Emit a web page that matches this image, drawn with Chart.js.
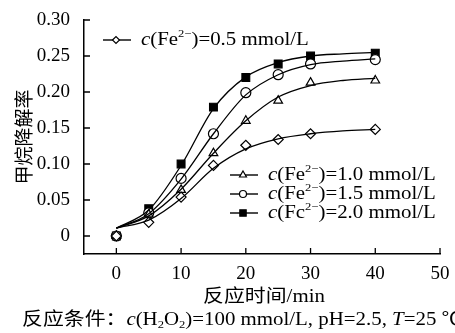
<!DOCTYPE html>
<html>
<head>
<meta charset="utf-8">
<script src="https://cdn.jsdelivr.net/npm/chart.js@4.4.1/dist/chart.umd.min.js"></script>
<style>
  body { margin: 0; background: #fff; }
</style>
</head>
<body>
<canvas id="c" width="455" height="333"></canvas>
<script>
// measured points
const times = [0, 5, 10, 15, 20, 25, 30, 40];
const fe05 = [0, 0.019, 0.054, 0.098, 0.126, 0.134, 0.142, 0.148];
const fe10 = [0, 0.030, 0.064, 0.115, 0.160, 0.188, 0.213, 0.216];
const fe15 = [0, 0.032, 0.080, 0.142, 0.199, 0.224, 0.239, 0.245];
const fe20 = [0, 0.038, 0.100, 0.179, 0.220, 0.239, 0.250, 0.254];

// fitted curves
const fitTimes = [0, 5, 10, 15, 20, 25, 30, 35, 40];
const fit05 = [0.011, 0.022, 0.052, 0.094, 0.121, 0.135, 0.142, 0.146, 0.148];
const fit10 = [0.011, 0.028, 0.065, 0.115, 0.160, 0.193, 0.209, 0.216, 0.219];
const fit15 = [0.011, 0.031, 0.079, 0.142, 0.196, 0.224, 0.238, 0.243, 0.246];
const fit20 = [0.011, 0.036, 0.098, 0.177, 0.221, 0.241, 0.250, 0.253, 0.255];

const xTicks = [0, 10, 20, 30, 40, 50];
const yTicks = [0, 0.05, 0.10, 0.15, 0.20, 0.25, 0.30];

const FONT = "'Liberation Serif', 'Noto Sans CJK SC', serif";
const SX = 1.16; // the original text is a bit wider than the font

function pts(xs, ys) { return xs.map((x, i) => ({ x: x, y: ys[i] })); }

function curve(ys) {
  return {
    data: pts(fitTimes, ys), borderColor: '#000', borderWidth: 1.3,
    pointRadius: 0, cubicInterpolationMode: 'monotone', fill: false
  };
}
function marks(ys, style, r, filled) {
  return {
    data: pts(times, ys), showLine: false, pointStyle: style, pointRadius: r,
    pointBorderColor: '#000', pointBorderWidth: 1.2,
    pointBackgroundColor: filled ? '#000' : '#fff'
  };
}

// text with italic / super / subscript parts, stretched a little in x
function richText(ctx, x, y, parts, size, align) {
  ctx.save();
  ctx.textBaseline = 'middle';
  ctx.textAlign = 'left';
  ctx.fillStyle = '#000';
  let w = 0;
  const fonts = parts.map(p => {
    let fs = size, dy = 0, st = '';
    if (p[1] === 'i') st = 'italic ';
    if (p[1] === 'sup') { fs = size * 0.6; dy = -size * 0.33; }
    if (p[1] === 'sub') { fs = size * 0.6; dy = size * 0.3; }
    ctx.font = st + fs + 'px ' + FONT;
    const pw = ctx.measureText(p[0]).width;
    w += pw;
    return { font: ctx.font, dy: dy, w: pw };
  });
  ctx.translate(x, y);
  ctx.scale(SX, 1);
  let cx = align === 'center' ? -w / 2 : 0;
  parts.forEach((p, i) => {
    ctx.font = fonts[i].font;
    ctx.fillText(p[0], cx, fonts[i].dy);
    cx += fonts[i].w;
  });
  ctx.restore();
}

function legendEntry(ctx, x, y, style, r, filled, label) {
  ctx.save();
  ctx.strokeStyle = '#000';
  ctx.lineWidth = 1.4;
  ctx.beginPath();
  ctx.moveTo(x, y); ctx.lineTo(x + 28, y);
  ctx.stroke();
  ctx.fillStyle = filled ? '#000' : '#fff';
  ctx.lineWidth = 1.2;
  Chart.helpers.drawPoint(ctx, { pointStyle: style, radius: r, rotation: 0, borderWidth: 1.2 }, x + 13, y);
  ctx.restore();
  richText(ctx, x + 38, y, [['c', 'i'], ['(' + label[0], 'n'], ['2\u2212', 'sup'], [')=' + label[1] + ' mmol/L', 'n']], 18);
}

const extras = {
  id: 'extras',
  afterDraw(chart) {
    const ctx = chart.ctx;
    const xs = chart.scales.x, ys = chart.scales.y;
    ctx.save();
    ctx.strokeStyle = '#000';
    ctx.lineWidth = 1.3;
    ctx.beginPath();
    yTicks.forEach(v => {
      const py = ys.getPixelForValue(v);
      ctx.moveTo(xs.left, py); ctx.lineTo(xs.left + 6, py);
    });
    xTicks.forEach(v => {
      const px = xs.getPixelForValue(v);
      ctx.moveTo(px, ys.bottom); ctx.lineTo(px, ys.bottom - 6);
    });
    ctx.stroke();
    ctx.restore();

    legendEntry(ctx, 103, 40, 'rectRot', 3.5, false, ['Fe', '0.5']);
    legendEntry(ctx, 230, 175, 'triangle', 4, false, ['Fe', '1.0']);
    legendEntry(ctx, 230, 194, 'circle', 3.5, false, ['Fe', '1.5']);
    legendEntry(ctx, 230, 213, 'rect', 4.5, true, ['Fc', '2.0']);

    richText(ctx, 264, 297, [['反应时间/min', 'n']], 18, 'center');
    richText(ctx, 22, 320, [['反应条件：', 'n'], ['c', 'i'], ['(H', 'n'], ['2', 'sub'], ['O', 'n'], ['2', 'sub'],
      [')=100 mmol/L, pH=2.5, ', 'n'], ['T', 'i'], ['=25 \u2103', 'n']], 18);
  }
};

new Chart(document.getElementById('c'), {
  type: 'line',
  data: {
    datasets: [
      curve(fit05), curve(fit10), curve(fit15), curve(fit20),
      marks(fe05, 'rectRot', 5, false),
      marks(fe10, 'triangle', 5, false),
      marks(fe15, 'circle', 5, false),
      marks(fe20, 'rect', 5.5, true)
    ]
  },
  options: {
    responsive: false,
    animation: false,
    layout: { padding: { top: 20, right: 15, left: 0, bottom: 0 } },
    plugins: { legend: { display: false }, tooltip: { enabled: false } },
    scales: {
      x: {
        type: 'linear', min: -5, max: 50,
        afterBuildTicks: s => { s.ticks = xTicks.map(v => ({ value: v })); },
        afterFit: s => { s.height = 79; },
        grid: { display: false },
        border: { display: true, color: '#000', width: 1.5 },
        ticks: { color: '#000', padding: 1, maxRotation: 0, font: { family: FONT, size: 19 } }
      },
      y: {
        min: -0.025, max: 0.30,
        afterBuildTicks: s => { s.ticks = yTicks.map(v => ({ value: v })); },
        afterFit: s => { s.width = 84; },
        grid: { display: false },
        border: { display: true, color: '#000', width: 1.5 },
        ticks: { color: '#000', padding: 6, font: { family: FONT, size: 19 },
          callback: v => v === 0 ? '0' : v.toFixed(2) },
        title: { display: true, text: '甲烷降解率', color: '#000', padding: { top: 15 }, font: { family: FONT, size: 19 } }
      }
    }
  },
  plugins: [extras]
});
</script>
</body>
</html>
